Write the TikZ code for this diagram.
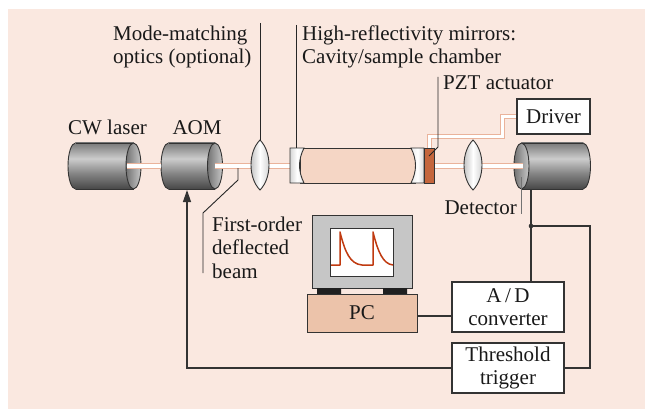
\documentclass[tikz,border=0pt]{standalone}
\usepackage{fontspec}
\setmainfont{Liberation Serif}
\usetikzlibrary{arrows.meta}

\definecolor{bgpink}{HTML}{FAE8E0}
\definecolor{beampink}{HTML}{EAB39B}
\definecolor{cavityfill}{HTML}{F5D6C5}
\definecolor{pcfill}{HTML}{ECC3AA}
\definecolor{pztfill}{HTML}{C4663D}
\definecolor{monfill}{HTML}{C6C6C6}
\definecolor{sigred}{HTML}{C03A10}
\definecolor{linegray}{HTML}{333333}

% vertical metal shading for the cylinder bodies (0bp = bottom)
\pgfdeclareverticalshading{cylshade}{100bp}{%
  color(0bp)=(black!72); color(25bp)=(black!72); color(42bp)=(black!48);
  color(58bp)=(black!20); color(75bp)=(black!52); color(100bp)=(black!52)}

% cylinder: #1 = x of the closed back end, #2 = x of the open front face
\newcommand{\drawcylinder}[2]{%
  \shade[shading=cylshade] (#1,166) ellipse (7.5 and 23);
  \draw[outline] (#1,166) ellipse (7.5 and 23);
  \shade[shading=cylshade] (#1,143) rectangle (#2,189);
  \draw[outline] (#1,143) -- (#2,143) (#1,189) -- (#2,189);
  \shadedraw[left color=black!55, right color=black!22, outline] (#2,166) ellipse (7.5 and 23);
}

% biconvex lens centred at x = #1
\newcommand{\drawlens}[1]{%
  \shadedraw[left color=black!30, right color=black!22, middle color=white, outline]
    (#1,140) .. controls (#1+12,152) and (#1+12,178) .. (#1,190)
             .. controls (#1-12,178) and (#1-12,152) .. (#1,140) -- cycle;
}

\begin{document}
\begin{tikzpicture}[x=1pt,y=-1pt,
  every node/.style={font=\fontsize{21pt}{23.5pt}\selectfont, text=black!90},
  outline/.style={draw=linegray, line width=0.9pt},
  wire/.style={draw=linegray, line width=1.3pt},
  leader/.style={draw=black!85, line width=0.9pt},
  beam/.style={draw=beampink, line width=1.1pt, double=white, double distance=3.6pt},
  cable/.style={draw=beampink, line width=1pt, double=white, double distance=3pt},
  box/.style={draw=linegray, line width=1.3pt, fill=white, inner sep=0pt, align=center},
  tag/.style={inner sep=0pt, align=left}
]
\useasboundingbox (0,0) rectangle (645,409);
\fill[bgpink] (8,9) rectangle (645,409);

% ---------- optical bench ----------
\drawcylinder{75.5}{133.5}   % CW laser
\drawcylinder{168.5}{215}    % AOM
\drawcylinder{583}{521.5}    % detector

\coordinate (laserout) at (127,166);
\coordinate (aomin)    at (161,166);
\coordinate (aomout)   at (215,166);
\coordinate (cavin)    at (290,166);
\coordinate (pztout)   at (434,166);
\coordinate (detin)    at (523,166);
\coordinate (aomctl)   at (187,190);
\coordinate (detsig)   at (531,189);
\coordinate (pzttop)   at (429.5,148);
\coordinate (cablebend) at (502,137);

\draw[beam] (laserout) -- (aomin);
\draw[beam] (aomout) -- (cavin);
\draw[beam] (pztout) -- (detin);

% cavity / sample chamber
\filldraw[fill=cavityfill, outline] (300,148) rectangle (415,183);
\shadedraw[left color=black!16, right color=black!8, middle color=white, outline]
  (290,148) -- (304,148) .. controls (298,160) and (298,171) .. (304,183) -- (290,183) -- cycle;
\shadedraw[left color=black!8, right color=black!16, middle color=white, outline]
  (424,148) -- (411,148) .. controls (417,160) and (417,171) .. (411,183) -- (424,183) -- cycle;
\filldraw[fill=pztfill, outline] (424,148) rectangle (434,183);

\drawlens{260}
\drawlens{473}

% ---------- electronics ----------
\node[box, minimum width=73pt, minimum height=35pt] (drv) at (553.5,116.5) {Driver};
\node[box, minimum width=112pt, minimum height=50pt] (adc) at (508,307) {A\,/\,D\\converter};
\node[box, minimum width=112pt, minimum height=50pt] (trig) at (508,368) {Threshold\\trigger};

\node[draw=linegray, line width=1pt, fill=monfill, minimum width=100pt, minimum height=73pt,
      inner sep=0pt] (mon) at (362,251.5) {};
\node[draw=linegray, line width=0.9pt, fill=white, minimum width=63pt, minimum height=48pt,
      inner sep=0pt] (scr) at (361.5,252) {};
\fill[black!88] (317,288) rectangle (341,294) (383,288) rectangle (407,294);
\draw[sigred, line width=1.5pt, line join=round]
  (331,265) -- (340,265) -- (340,232) .. controls (345,252) and (350,264) .. (362,265)
  -- (373,265) -- (373,232) .. controls (378,252) and (383,264) .. (393,265);
\node[draw=linegray, line width=1pt, fill=pcfill, minimum width=110pt, minimum height=38pt,
      inner sep=0pt] (pc) at (362,313) {PC};

\coordinate (junc)  at (531,226);
\coordinate (trigr) at (590,368);
\coordinate (pcsig) at (417,316);

\draw[cable] (pzttop) |- (cablebend) |- (drv.west);
\draw[wire] (detsig) -- (junc) -- (junc |- adc.north);
\draw[wire] (junc) -| (trigr) -- (trig.east);
\fill[linegray] (junc) circle (2.3);
\draw[wire] (pc.east |- pcsig) -- (adc.west |- pcsig);
\draw[wire, -{Triangle[length=12pt,width=8pt]}] (trig.west) -| (aomctl);

% ---------- labels and leaders ----------
\node[tag, anchor=base] (cwlab) at (107.5,135) {CW laser};
\node[tag, anchor=base] (aomlab) at (197,135) {AOM};
\node[tag, anchor=north west] (mmlab) at (113,25.5) {Mode-matching\\optics (optional)};
\node[tag, anchor=north west] (hrlab) at (302,25.5) {High-reflectivity mirrors:\\Cavity/sample chamber};
\node[tag, anchor=base west] (pztlab) at (443,90) {PZT actuator};
\node[tag, anchor=base east] (detlab) at (517,214) {Detector};
\node[tag, anchor=north west] (folab) at (212,216.5) {First-order\\deflected\\beam};

\draw[leader] (260,23) -- (260,140);
\draw[leader] (296,25) -- (296,148);
\draw[leader] (438,77) -- (438,147) -- (429,156);
\draw[leader] (238,168) -- (238,180) -- (203,213) -- (203,273);
\draw[draw=black!55, line width=0.9pt] (521,177) -- (521,214);
\end{tikzpicture}
\end{document}
